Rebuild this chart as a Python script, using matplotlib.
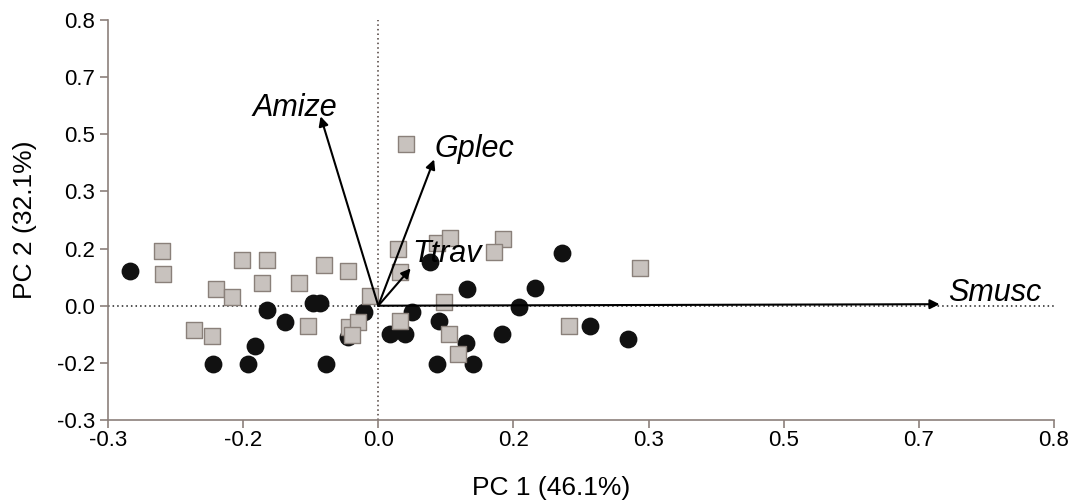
import numpy as np
import matplotlib.pyplot as plt

plt.rcParams['font.family'] = ['Liberation Sans', 'DejaVu Sans']

# scores, group 1 (black circles)
circ_x = [-0.276, -0.183, -0.145, -0.137, -0.124, -0.103, -0.072, -0.065, -0.058, -0.034,
          -0.016, 0.013, 0.030, 0.038, 0.057, 0.067, 0.098, 0.097, 0.065, 0.105,
          0.137, 0.156, 0.174, 0.204, 0.235, 0.277]
circ_y = [0.091, -0.154, -0.154, -0.106, -0.012, -0.043, 0.007, 0.007, -0.154, -0.083,
          -0.017, -0.075, -0.075, -0.017, 0.114, -0.041, 0.043, -0.098, -0.154, -0.154,
          -0.075, -0.004, 0.046, 0.138, -0.054, -0.088]

# scores, group 2 (grey squares)
sq_x = [-0.240, -0.239, -0.151, -0.123, -0.129, -0.180, -0.162, -0.205, -0.185, -0.060,
        -0.034, -0.088, -0.078, -0.009, -0.033, -0.023, -0.029, 0.022, 0.024, 0.024,
        0.065, 0.080, 0.073, 0.079, 0.088, 0.138, 0.129, 0.291, 0.212, 0.031]
sq_y = [0.143, 0.083, 0.119, 0.119, 0.059, 0.043, 0.022, -0.064, -0.080, 0.106,
        0.091, 0.059, -0.054, 0.025, -0.056, -0.043, -0.077, 0.148, 0.088, -0.041,
        0.164, 0.177, 0.009, -0.075, -0.127, 0.175, 0.140, 0.098, -0.054, 0.424]

# loadings
species = ['Amize', 'Gplec', 'Ttrav', 'Smusc']
load_x = [-0.064, 0.062, 0.036, 0.623]
load_y = [0.497, 0.384, 0.098, 0.004]
# label anchors (text baseline)
lab_x = [-0.093, 0.062, 0.038, 0.632]
lab_y = [0.497, 0.390, 0.114, 0.013]
lab_ha = ['center', 'left', 'left', 'left']

ticks = [-0.3, -0.15, 0.0, 0.15, 0.3, 0.45, 0.6, 0.75]
xlabels = ['-0.3', '-0.2', '0.0', '0.2', '0.3', '0.5', '0.7', '0.8']
ylabels = ['-0.3', '-0.2', '0.0', '0.2', '0.3', '0.5', '0.7', '0.8']

fig = plt.figure(figsize=(10.71, 5.0), dpi=100)
ax = fig.add_axes([0.1008, 0.16, 0.8833, 0.80])

ax.axhline(0, color='#222222', ls=(0, (1, 2)), lw=1.1, zorder=1)
ax.axvline(0, color='#4a3c38', ls=(0, (1, 2)), lw=1.1, zorder=1)

ax.scatter(circ_x, circ_y, s=140, marker='o', color='#111111', zorder=3, clip_on=False)
ax.scatter(sq_x, sq_y, s=145, marker='s', facecolor='#c8c2be', edgecolor='#8a807a',
           linewidth=1.0, zorder=4, clip_on=False)

for lx, ly in zip(load_x, load_y):
    ax.annotate('', xy=(lx, ly), xytext=(0, 0),
                arrowprops=dict(arrowstyle='-|>', color='black', lw=1.5,
                                mutation_scale=14, shrinkA=0, shrinkB=0),
                zorder=5)

for name, tx, ty, ha in zip(species, lab_x, lab_y, lab_ha):
    ax.text(tx, ty, name, style='italic', fontsize=22, ha=ha, va='baseline', zorder=6)

ax.set_xlim(-0.3, 0.75)
ax.set_ylim(-0.3, 0.75)
ax.set_xticks(ticks)
ax.set_xticklabels(xlabels)
ax.set_yticks(ticks)
ax.set_yticklabels(ylabels)

spine_col = '#8c807b'
for side in ['top', 'right']:
    ax.spines[side].set_visible(False)
for side in ['left', 'bottom']:
    ax.spines[side].set_color(spine_col)
    ax.spines[side].set_linewidth(1.2)
ax.tick_params(axis='both', colors=spine_col, length=5.5, width=1.2, labelsize=16,
               labelcolor='black')
ax.tick_params(axis='y', pad=4)
ax.tick_params(axis='x', pad=2)

ax.set_xlabel('PC 1 (46.1%)', fontsize=19)
ax.xaxis.set_label_coords(0.468, -0.14)
ax.set_ylabel('PC 2 (32.1%)', fontsize=19, labelpad=14)

fig.savefig('out.png', dpi=100)
